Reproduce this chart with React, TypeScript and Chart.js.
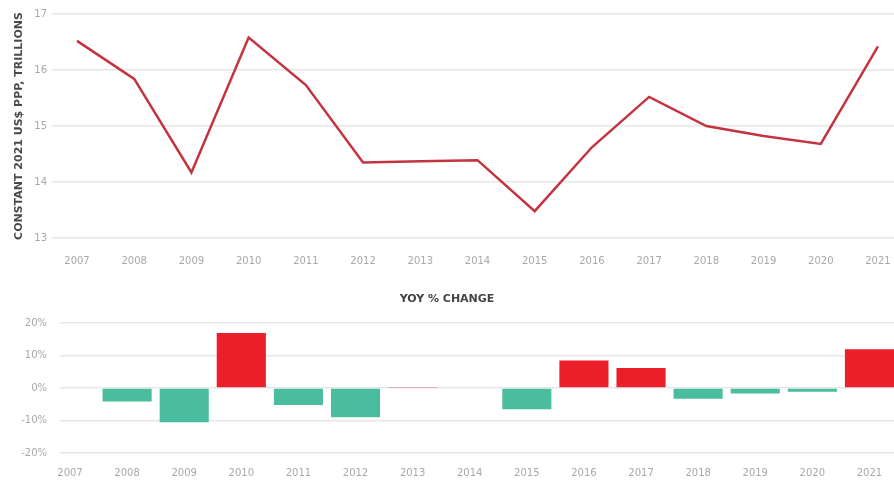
import React, { useEffect, useRef } from 'react';
import { Chart, registerables } from 'chart.js';

Chart.register(...registerables);

const years = [2007, 2008, 2009, 2010, 2011, 2012, 2013, 2014, 2015, 2016, 2017, 2018, 2019, 2020, 2021];
const gdpTrillions = [16.52, 15.84, 14.17, 16.58, 15.73, 14.35, 14.37, 14.39, 13.48, 14.62, 15.52, 15.0, 14.82, 14.68, 16.42];
const yoyChange: (number | null)[] = [null, -4.1, -10.5, 17.0, -5.2, -9.0, 0.2, 0.0, -6.5, 8.5, 6.2, -3.3, -1.7, -1.1, 12.0];
const topTicks = [13, 14, 15, 16, 17];
const yoyTicks = [-20, -10, 0, 10, 20];

const yTitle = 'CONSTANT 2021 US$ PPP, TRILLIONS';
const yoyTitle = 'YOY % CHANGE';

const FONT = "'DejaVu Sans', sans-serif";
const TICK_COLOR = '#a8a8a8';
const GRID_COLOR = '#e6e6e6';
const LINE_COLOR = '#c4333f';
const UP_COLOR = '#ea1f28';
const DOWN_COLOR = '#4abd9f';

export default function App() {
  const topRef = useRef<HTMLCanvasElement | null>(null);
  const botRef = useRef<HTMLCanvasElement | null>(null);

  useEffect(() => {
    const top = new Chart(topRef.current as HTMLCanvasElement, {
      type: 'line',
      data: {
        datasets: [
          {
            data: years.map((y, i) => ({ x: y, y: gdpTrillions[i] })),
            borderColor: LINE_COLOR,
            borderWidth: 2.5,
            pointRadius: 0,
            tension: 0,
            fill: false,
          },
        ],
      },
      options: {
        animation: false,
        responsive: false,
        maintainAspectRatio: false,
        layout: { padding: { top: 14, left: 0, right: 0, bottom: 0 } },
        plugins: { legend: { display: false }, tooltip: { enabled: false }, title: { display: false } },
        scales: {
          x: {
            type: 'linear',
            offset: false,
            min: 2006.563,
            max: 2021.28,
            afterBuildTicks: (s: any) => {
              s.ticks = years.map((v) => ({ value: v }));
            },
            afterFit: (s: any) => {
              s.height = 42;
              s.paddingLeft = 0;
              s.paddingRight = 0;
            },
            grid: { display: false, drawTicks: false },
            border: { display: false },
            ticks: {
              autoSkip: false,
              maxRotation: 0,
              padding: 17,
              color: TICK_COLOR,
              font: { family: FONT, size: 10 },
              callback: (v: any) => String(v),
            },
          },
          y: {
            min: 13,
            max: 17,
            afterBuildTicks: (s: any) => {
              s.ticks = topTicks.map((v) => ({ value: v }));
            },
            afterFit: (s: any) => {
              s.width = 52;
            },
            grid: { color: GRID_COLOR, lineWidth: 1.5, drawTicks: false },
            border: { display: false },
            ticks: {
              padding: 5,
              color: TICK_COLOR,
              font: { family: FONT, size: 10 },
              callback: (v: any) => String(v),
            },
            title: {
              display: true,
              text: yTitle,
              color: '#4a4a4a',
              font: { family: FONT, size: 11, weight: 'bold' },
              padding: { top: 13, bottom: 0 },
            },
          },
        },
      } as any,
    });

    const bot = new Chart(botRef.current as HTMLCanvasElement, {
      type: 'bar',
      data: {
        datasets: [
          {
            data: years.map((y, i) => ({ x: y, y: yoyChange[i] })) as any,
            backgroundColor: yoyChange.map((v) => ((v ?? 0) >= 0 ? UP_COLOR : DOWN_COLOR)),
            borderWidth: 0,
            categoryPercentage: 1,
            barPercentage: 0.86,
          },
        ],
      },
      options: {
        animation: false,
        responsive: false,
        maintainAspectRatio: false,
        layout: { padding: { top: 0, left: 0, right: 0, bottom: 0 } },
        plugins: {
          legend: { display: false },
          tooltip: { enabled: false },
          title: {
            display: true,
            text: yoyTitle,
            color: '#444444',
            font: { family: FONT, size: 11, weight: 'bold' },
            padding: { top: 13, bottom: 17 },
          },
        },
        scales: {
          x: {
            type: 'linear',
            offset: false,
            min: 2006.825,
            max: 2021.43,
            afterBuildTicks: (s: any) => {
              s.ticks = years.map((v) => ({ value: v }));
            },
            afterFit: (s: any) => {
              s.height = 28;
              s.paddingLeft = 0;
              s.paddingRight = 0;
            },
            grid: { display: false, drawTicks: false, offset: false },
            border: { display: false },
            ticks: {
              autoSkip: false,
              maxRotation: 0,
              padding: 14,
              color: TICK_COLOR,
              font: { family: FONT, size: 10 },
              callback: (v: any) => String(v),
            },
          },
          y: {
            min: -20,
            max: 20,
            afterBuildTicks: (s: any) => {
              s.ticks = yoyTicks.map((v) => ({ value: v }));
            },
            afterFit: (s: any) => {
              s.width = 60;
            },
            grid: { color: GRID_COLOR, lineWidth: 1.5, drawTicks: false },
            border: { display: false },
            ticks: {
              padding: 13,
              color: TICK_COLOR,
              font: { family: FONT, size: 10 },
              callback: (v: any) => `${v}%`,
            },
          },
        },
      } as any,
    });

    return () => {
      top.destroy();
      bot.destroy();
    };
  }, []);

  return (
    <div style={{ position: 'absolute', left: 0, top: 0, width: 894, height: 481, background: '#ffffff' }}>
      <canvas ref={topRef} width={894} height={280} style={{ display: 'block', width: 894, height: 280 }} />
      <canvas ref={botRef} width={894} height={201} style={{ display: 'block', width: 894, height: 201 }} />
    </div>
  );
}
